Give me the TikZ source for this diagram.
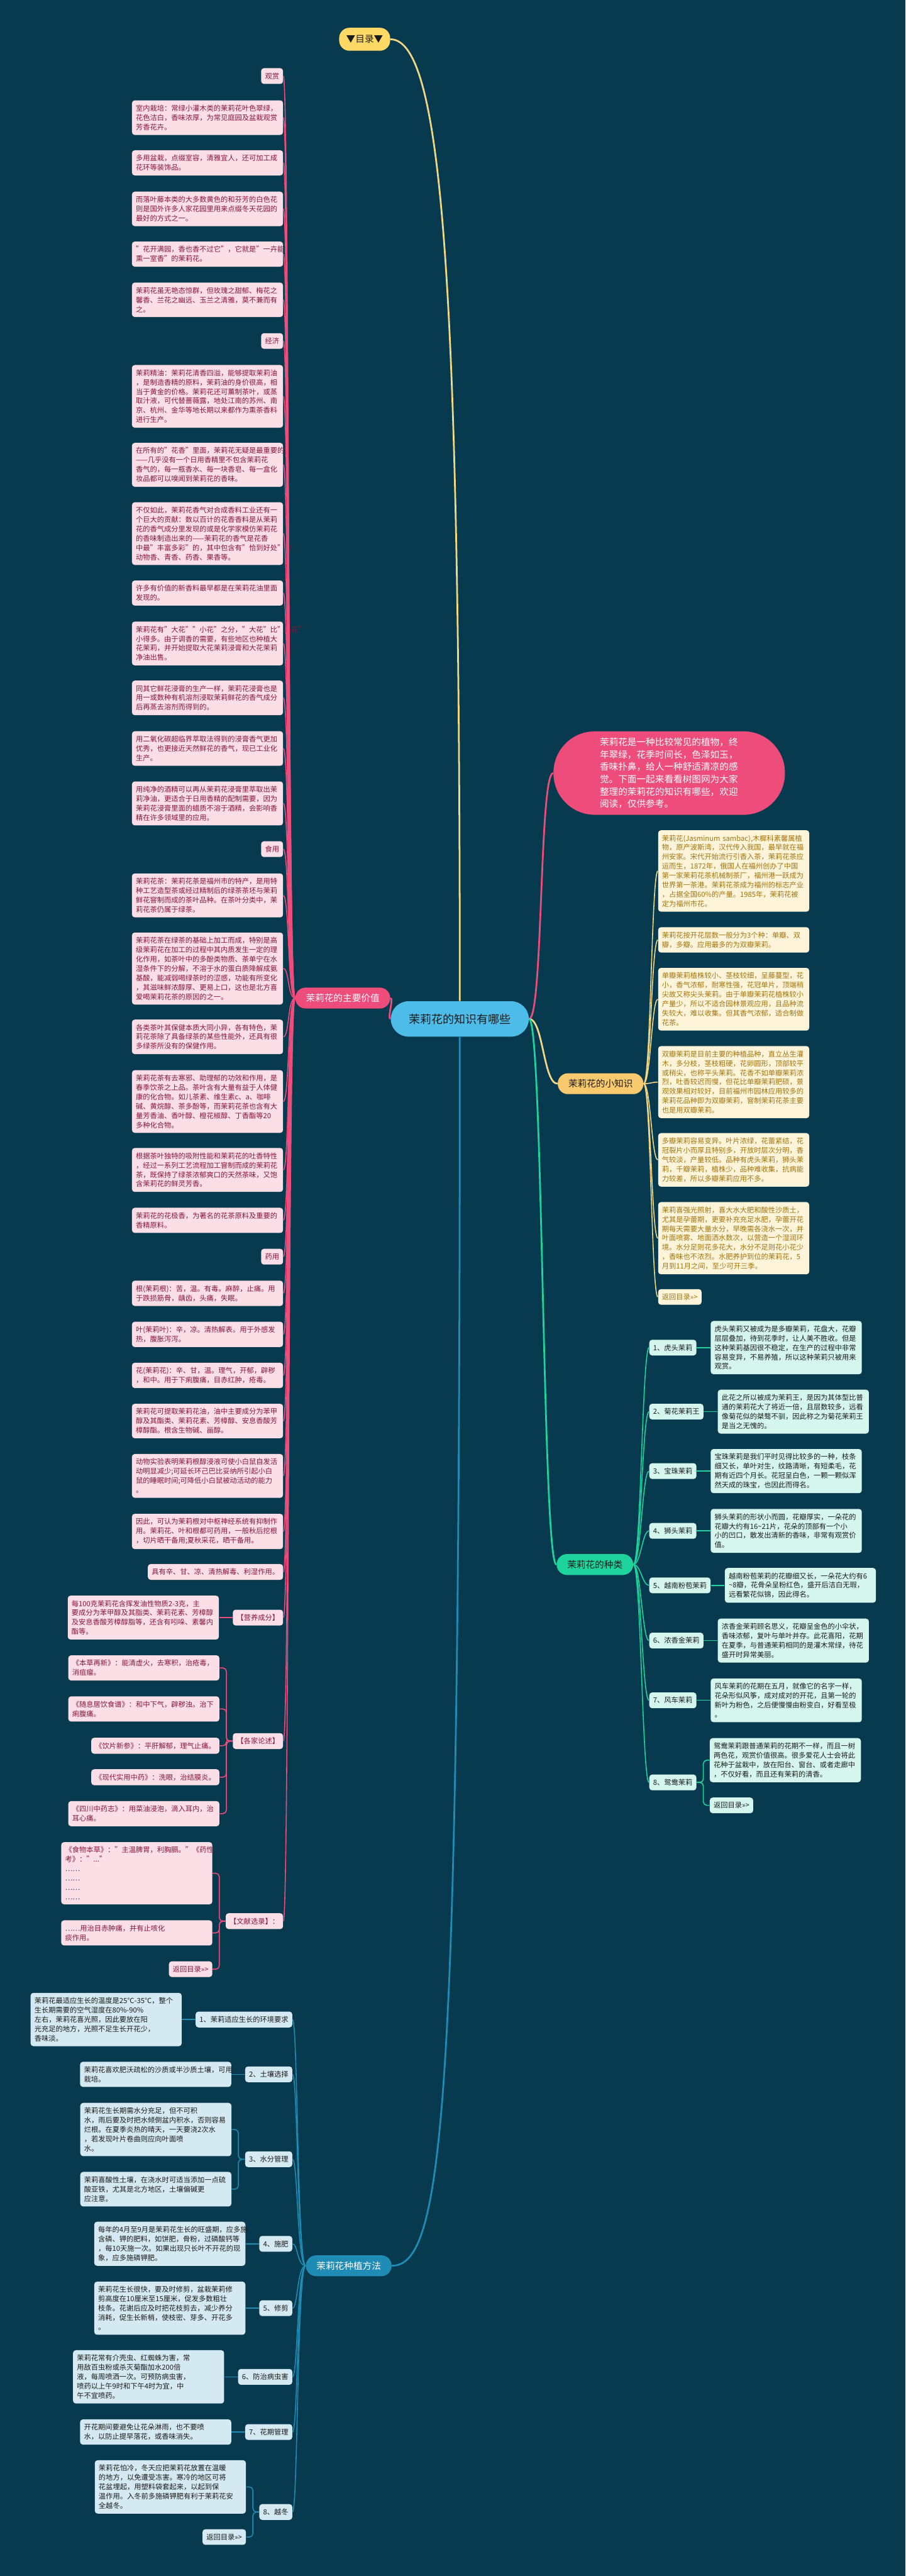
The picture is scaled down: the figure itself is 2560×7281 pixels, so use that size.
\documentclass[tikz,border=0pt]{standalone}
\usepackage{fontspec}
\setmainfont{Noto Sans CJK SC}
\usetikzlibrary{positioning}

\definecolor{bgc}{HTML}{073A4F}
\definecolor{pinkc}{HTML}{EE4C7B}
\definecolor{pinkleaf}{HTML}{FCDFE6}
\definecolor{pinktext}{HTML}{86163A}
\definecolor{goldc}{HTML}{F8C96D}
\definecolor{goldleaf}{HTML}{FEF4DA}
\definecolor{goldtext}{HTML}{A2740C}
\definecolor{goldline}{HTML}{F2D884}
\definecolor{tealc}{HTML}{1ED39C}
\definecolor{tealleaf}{HTML}{D4F6EC}
\definecolor{bluec}{HTML}{1E8CB4}
\definecolor{blueleaf}{HTML}{D4E9F1}
\definecolor{rootc}{HTML}{4DBCE9}
\definecolor{muluc}{HTML}{FFD966}
\definecolor{darktext}{HTML}{1B1B1B}

\newcommand\fsmall{\fontsize{5.69pt}{7.54pt}\selectfont}
\newcommand\fmid{\fontsize{7.4pt}{9.96pt}\selectfont}
\newcommand\fbig{\fontsize{9.1pt}{11pt}\selectfont}

\tikzset{
  box/.style={font=\fsmall, align=left, rounded corners=0.8mm, inner xsep=0.11cm, inner ysep=0.13cm},
  pleaf/.style={box, fill=pinkleaf, text=pinktext, text width=4.05cm, anchor=north east},
  ptag/.style={box, fill=pinkleaf, text=pinktext, anchor=north east},
  gleaf/.style={box, fill=goldleaf, text=goldtext, text width=4.05cm, anchor=north west},
  gtag/.style={box, fill=goldleaf, text=goldtext, anchor=north west},
  tleaf/.style={box, fill=tealleaf, text=darktext, text width=4.05cm},
  ttag/.style={box, fill=tealleaf, text=darktext},
  bleaf/.style={box, fill=blueleaf, text=darktext, text width=4.05cm},
  btag/.style={box, fill=blueleaf, text=darktext},
  branch/.style={font=\fmid, rounded corners=2.9mm, inner xsep=0.3cm, minimum height=0.59cm},
  pline/.style={draw=pinkc, line width=0.8pt},
  gline/.style={draw=goldline, line width=0.8pt},
  tline/.style={draw=tealc, line width=0.8pt},
  bline/.style={draw=bluec, line width=0.8pt},
}

\begin{document}
\begin{tikzpicture}[x=0.01cm, y=-0.01cm]
  \fill[bgc] (0,0) rectangle (2560,7281);
  \useasboundingbox (0,0) rectangle (2560,7281);

  % centre and first level
  \node (root) [branch, font=\fbig, fill=rootc, text=darktext, minimum width=3.9cm, minimum height=1cm, rounded corners=5mm] at (1300,2880) {茉莉花的知识有哪些};
  \node (mulu) [branch, fill=muluc, text=darktext, minimum height=0.65cm, inner xsep=0.2cm] at (1031,111) {▼目录▼};
  \node (intro) [fill=pinkc, text=white, font=\fmid, align=left, text width=3.92cm, inner xsep=1.31cm, inner ysep=0.18cm, rounded corners=11.7mm] at (1892,2185) {茉莉花是一种比较常见的植物，终\\年翠绿，花季时间长，色泽如玉，\\香味扑鼻，给人一种舒适清凉的感\\觉。下面一起来看看树图网为大家\\整理的茉莉花的知识有哪些，欢迎\\阅读，仅供参考。};
  \node (jz) [branch, fill=pinkc, text=white] at (969,2821) {茉莉花的主要价值};
  \node (xz) [branch, fill=goldc, text=darktext] at (1698,3063) {茉莉花的小知识};
  \node (zl) [branch, fill=tealc, text=darktext] at (1682,4422) {茉莉花的种类};
  \node (zz) [branch, fill=bluec, text=white] at (986,6404) {茉莉花种植方法};

  \draw[gline, line width=1.4pt] (root.north) .. controls +(0,-2000) and +(150,0) .. (mulu.east);
  \draw[pline, line width=1.4pt] (root.west) .. controls +(-10,0) and +(10,0) .. (jz.east);
  \draw[pline, line width=1.4pt] (root.east) .. controls +(40,0) and +(-40,0) .. (intro.west);
  \draw[gline, line width=1.4pt] (root.east) .. controls +(40,0) and +(-40,0) .. (xz.west);
  \draw[tline, line width=1.4pt] (root.east) .. controls +(40,0) and +(-40,0) .. (zl.west);
  \draw[bline, line width=1.4pt] (root.south) .. controls +(0,3000) and +(150,0) .. (zz.east);

  % main value
  \node (p1) [ptag] at (801,192) {观赏};
  \node (p2) [pleaf] at (801,283) {室内栽培：常绿小灌木类的茉莉花叶色翠绿，\\花色洁白，香味浓厚，为常见庭园及盆栽观赏\\芳香花卉。};
  \node (p3) [pleaf] at (801,424) {多用盆栽，点缀室容，清雅宜人，还可加工成\\花环等装饰品。};
  \node (p4) [pleaf] at (801,541) {而落叶藤本类的大多数黄色的和芬芳的白色花\\则是国外许多人家花园里用来点缀冬天花园的\\最好的方式之一。};
  \node (p5) [pleaf] at (801,682) {"花开满园，香也香不过它"，它就是"一卉能\\熏一室香"的茉莉花。};
  \node (p6) [pleaf] at (801,798) {茉莉花虽无艳态惊群，但玫瑰之甜郁、梅花之\\馨香、兰花之幽远、玉兰之清雅，莫不兼而有\\之。};
  \node (p7) [ptag] at (801,941) {经济};
  \node (p8) [pleaf] at (801,1031) {茉莉精油：茉莉花清香四溢，能够提取茉莉油\\，是制造香精的原料，茉莉油的身价很高，相\\当于黄金的价格。茉莉花还可薰制茶叶，或蒸\\取汁液，可代替蔷薇露，地处江南的苏州、南\\京、杭州、金华等地长期以来都作为熏茶香料\\进行生产。};
  \node (p9) [pleaf] at (801,1251) {在所有的"花香"里面，茉莉花无疑是最重要的\\——几乎没有一个日用香精里不包含茉莉花\\香气的，每一瓶香水、每一块香皂、每一盒化\\妆品都可以嗅闻到茉莉花的香味。};
  \node (p10) [pleaf] at (801,1419) {不仅如此，茉莉花香气对合成香料工业还有一\\个巨大的贡献：数以百计的花香香料是从茉莉\\花的香气成分里发现的或是化学家模仿茉莉花\\的香味制造出来的——茉莉花的香气是花香\\中最"丰富多彩"的，其中包含有"恰到好处"的\\动物香、青香、药香、果香等。};
  \node (p11) [pleaf] at (801,1640) {许多有价值的新香料最早都是在茉莉花油里面\\发现的。};
  \node (p12) [pleaf] at (801,1756) {茉莉花有"大花""小花"之分，"大花"比"小花"\\小得多。由于调香的需要，有些地区也种植大\\花茉莉，并开始提取大花茉莉浸膏和大花茉莉\\净油出售。};
  \node (p13) [pleaf] at (801,1923) {同其它鲜花浸膏的生产一样，茉莉花浸膏也是\\用一或数种有机溶剂浸取茉莉鲜花的香气成分\\后再蒸去溶剂而得到的。};
  \node (p14) [pleaf] at (801,2066) {用二氧化碳超临界萃取法得到的浸膏香气更加\\优秀，也更接近天然鲜花的香气，现已工业化\\生产。};
  \node (p15) [pleaf] at (801,2208) {用纯净的酒精可以再从茉莉花浸膏里萃取出茉\\莉净油，更适合于日用香精的配制需要，因为\\茉莉花浸膏里面的蜡质不溶于酒精，会影响香\\精在许多领域里的应用。};
  \node (p16) [ptag] at (801,2377) {食用};
  \node (p17) [pleaf] at (801,2468) {茉莉花茶：茉莉花茶是福州市的特产，是用特\\种工艺造型茶或经过精制后的绿茶茶坯与茉莉\\鲜花窨制而成的茶叶品种。在茶叶分类中，茉\\莉花茶仍属于绿茶。};
  \node (p18) [pleaf] at (801,2635) {茉莉花茶在绿茶的基础上加工而成，特别是高\\级茉莉花在加工的过程中其内质发生一定的理\\化作用，如茶叶中的多酚类物质、茶单宁在水\\湿条件下的分解，不溶于水的蛋白质降解成氨\\基酸，能减弱喝绿茶时的涩感，功能有所变化\\，其滋味鲜浓醇厚、更易上口，这也是北方喜\\爱喝茉莉花茶的原因的之一。};
  \node (p19) [pleaf] at (801,2881) {各类茶叶其保健本质大同小异，各有特色，茉\\莉花茶除了具备绿茶的某些性能外，还具有很\\多绿茶所没有的保健作用。};
  \node (p20) [pleaf] at (801,3024) {茉莉花茶有去寒邪、助理郁的功效和作用，是\\春季饮茶之上品。茶叶含有大量有益于人体健\\康的化合物。如儿茶素、维生素c、a、咖啡\\碱、黄烷醇、茶多酚等，而茉莉花茶也含有大\\量芳香油、香叶醇、橙花椒醇、丁香酯等20\\多种化合物。};
  \node (p21) [pleaf] at (801,3244) {根据茶叶独特的吸附性能和茉莉花的吐香特性\\，经过一系列工艺流程加工窨制而成的茉莉花\\茶，既保持了绿茶浓郁爽口的天然茶味，又饱\\含茉莉花的鲜灵芳香。};
  \node (p22) [pleaf] at (801,3413) {茉莉花的花极香，为著名的花茶原料及重要的\\香精原料。};
  \node (p23) [ptag] at (801,3529) {药用};
  \node (p24) [pleaf] at (801,3619) {根(茉莉根)：苦，温。有毒。麻醉，止痛。用\\于跌损筋骨，龋齿，头痛，失眠。};
  \node (p25) [pleaf] at (801,3735) {叶(茉莉叶)：辛，凉。清热解表。用于外感发\\热，腹胀泻泻。};
  \node (p26) [pleaf] at (801,3851) {花(茉莉花)：辛、甘，温。理气，开郁，辟秽\\，和中。用于下痢腹痛，目赤红肿，疮毒。};
  \node (p27) [pleaf] at (801,3967) {茉莉花可提取茉莉花油，油中主要成分为苯甲\\醇及其酯类、茉莉花素、芳樟醇、安息香酸芳\\樟醇酯。根含生物碱、甾醇。};
  \node (p28) [pleaf] at (801,4109) {动物实验表明茉莉根醇浸液可使小白鼠自发活\\动明显减少;可延长环己巴比妥纳所引起小白\\鼠的睡眠时间;可降低小白鼠被动活动的能力\\。};
  \node (p29) [pleaf] at (801,4278) {因此，可认为茉莉根对中枢神经系统有抑制作\\用。茉莉花、叶和根都可药用，一般秋后挖根\\，切片晒干备用;夏秋采花，晒干备用。};
  \node (p30) [ptag] at (801,4420) {具有辛、甘、凉、清热解毒、利湿作用。};
  \node (yy) [ptag] at (801,4549) {【营养成分】};
  \node (gj) [ptag] at (801,4898) {【各家论述】};
  \node (wx) [ptag] at (801,5407) {【文献选录】：};

  \node (yy1) [pleaf, left=0.38cm of yy] {每100克茉莉花含挥发油性物质2-3克，主\\要成分为苯甲醇及其脂类、茉莉花素、芳樟醇\\及安息香酸芳樟醇脂等，还含有吲哚、素馨内\\酯等。};
  \node (gj1) [pleaf] at (621,4678) {《本草再新》：能清虚火，去寒积，治疮毒，\\消疽瘤。};
  \node (gj2) [pleaf] at (621,4794) {《随息居饮食谱》：和中下气，辟秽浊。治下\\痢腹痛。};
  \node (gj3) [ptag] at (621,4911) {《饮片新参》：平肝解郁，理气止痛。};
  \node (gj4) [ptag] at (621,5000) {《现代实用中药》：洗眼，治结膜炎。};
  \node (gj5) [pleaf] at (621,5090) {《四川中药志》：用菜油浸泡，滴入耳内，治\\耳心痛。};
  \node (wx1) [pleaf] at (601,5206) {《食物本草》："主温脾胃，利胸膈。"《药性\\考》："..."\\……\\……\\……\\……};
  \node (wx2) [pleaf] at (601,5427) {……用治目赤肿痛，并有止咳化\\痰作用。};
  \node (wxb) [ptag] at (601,5543) {返回目录>>>};

  \draw[pline] (jz.west) .. controls +(-21,0) and +(17,0) .. (p1.east);
  \draw[pline] (jz.west) .. controls +(-21,0) and +(17,0) .. (p2.east);
  \draw[pline] (jz.west) .. controls +(-21,0) and +(17,0) .. (p3.east);
  \draw[pline] (jz.west) .. controls +(-21,0) and +(17,0) .. (p4.east);
  \draw[pline] (jz.west) .. controls +(-21,0) and +(17,0) .. (p5.east);
  \draw[pline] (jz.west) .. controls +(-21,0) and +(17,0) .. (p6.east);
  \draw[pline] (jz.west) .. controls +(-21,0) and +(17,0) .. (p7.east);
  \draw[pline] (jz.west) .. controls +(-21,0) and +(17,0) .. (p8.east);
  \draw[pline] (jz.west) .. controls +(-21,0) and +(17,0) .. (p9.east);
  \draw[pline] (jz.west) .. controls +(-21,0) and +(17,0) .. (p10.east);
  \draw[pline] (jz.west) .. controls +(-21,0) and +(17,0) .. (p11.east);
  \draw[pline] (jz.west) .. controls +(-21,0) and +(17,0) .. (p12.east);
  \draw[pline] (jz.west) .. controls +(-21,0) and +(17,0) .. (p13.east);
  \draw[pline] (jz.west) .. controls +(-21,0) and +(17,0) .. (p14.east);
  \draw[pline] (jz.west) .. controls +(-21,0) and +(17,0) .. (p15.east);
  \draw[pline] (jz.west) .. controls +(-21,0) and +(17,0) .. (p16.east);
  \draw[pline] (jz.west) .. controls +(-21,0) and +(17,0) .. (p17.east);
  \draw[pline] (jz.west) .. controls +(-21,0) and +(17,0) .. (p18.east);
  \draw[pline] (jz.west) .. controls +(-21,0) and +(17,0) .. (p19.east);
  \draw[pline] (jz.west) .. controls +(-21,0) and +(17,0) .. (p20.east);
  \draw[pline] (jz.west) .. controls +(-21,0) and +(17,0) .. (p21.east);
  \draw[pline] (jz.west) .. controls +(-21,0) and +(17,0) .. (p22.east);
  \draw[pline] (jz.west) .. controls +(-21,0) and +(17,0) .. (p23.east);
  \draw[pline] (jz.west) .. controls +(-21,0) and +(17,0) .. (p24.east);
  \draw[pline] (jz.west) .. controls +(-21,0) and +(17,0) .. (p25.east);
  \draw[pline] (jz.west) .. controls +(-21,0) and +(17,0) .. (p26.east);
  \draw[pline] (jz.west) .. controls +(-21,0) and +(17,0) .. (p27.east);
  \draw[pline] (jz.west) .. controls +(-21,0) and +(17,0) .. (p28.east);
  \draw[pline] (jz.west) .. controls +(-21,0) and +(17,0) .. (p29.east);
  \draw[pline] (jz.west) .. controls +(-21,0) and +(17,0) .. (p30.east);
  \draw[pline] (jz.west) .. controls +(-21,0) and +(17,0) .. (yy.east);
  \draw[pline] (jz.west) .. controls +(-21,0) and +(17,0) .. (gj.east);
  \draw[pline] (jz.west) .. controls +(-21,0) and +(17,0) .. (wx.east);

  \draw[pline] (yy1.east) -- (yy.west);
  \draw[pline, rounded corners=1mm] (gj1.east) -- ++(19,0) |- (gj.west);
  \draw[pline, rounded corners=1mm] (gj2.east) -- ++(19,0) |- (gj.west);
  \draw[pline, rounded corners=1mm] (gj3.east) -- ++(19,0) |- (gj.west);
  \draw[pline, rounded corners=1mm] (gj4.east) -- ++(19,0) |- (gj.west);
  \draw[pline, rounded corners=1mm] (gj5.east) -- ++(19,0) |- (gj.west);
  \draw[pline, rounded corners=1mm] (wx1.east) -- ++(19,0) |- (wx.west);
  \draw[pline, rounded corners=1mm] (wx2.east) -- ++(19,0) |- (wx.west);
  \draw[pline, rounded corners=1mm] (wxb.east) -- ++(19,0) |- (wx.west);

  % little knowledge
  \node (g1) [gleaf] at (1860,2346) {茉莉花(Jasminum sambac),木樨科素馨属植\\物，原产波斯湾，汉代传入我国，最早就在福\\州安家。宋代开始流行引香入茶，茉莉花茶应\\运而生，1872年，俄国人在福州创办了中国\\第一家茉莉花茶机械制茶厂，福州港一跃成为\\世界第一茶港。茉莉花茶成为福州的标志产业\\，占据全国60\%的产量。1985年，茉莉花被\\定为福州市花。};
  \node (g2) [gleaf] at (1860,2620) {茉莉花按开花层数一般分为3个种：单瓣、双\\瓣，多瓣。应用最多的为双瓣茉莉。};
  \node (g3) [gleaf] at (1860,2735) {单瓣茉莉植株较小、茎枝较细，呈藤蔓型，花\\小，香气浓郁，耐寒性强，花冠单片，顶端稍\\尖故又称尖头茉莉。由于单瓣茉莉花植株较小\\产量少，所以不适合园林景观应用，且品种流\\失较大，难以收集。但其香气浓郁，适合制做\\花茶。};
  \node (g4) [gleaf] at (1860,2956) {双瓣茉莉是目前主要的种植品种，直立丛生灌\\木，多分枝，茎枝粗硬，花卵圆形，顶部较平\\或稍尖，也称平头茉莉。花香不如单瓣茉莉浓\\烈，吐香较迟而慢，但花比单瓣茉莉肥硕，景\\观效果相对较好，目前福州市园林应用较多的\\茉莉花品种即为双瓣茉莉，窨制茉莉花茶主要\\也是用双瓣茉莉。};
  \node (g5) [gleaf] at (1860,3202) {多瓣茉莉容易变异。叶片浓绿，花蕾紧结，花\\冠裂片小而厚且特别多，开放时层次分明，香\\气较淡，产量较低。品种有虎头茉莉，狮头茉\\莉，千瓣茉莉，植株少，品种难收集，抗病能\\力较差，所以多瓣茉莉应用不多。};
  \node (g6) [gleaf] at (1860,3397) {茉莉喜强光照射，喜大水大肥和酸性沙质土，\\尤其是孕蕾期，更要补充充足水肥，孕蕾开花\\期每天需要大量水分，早晚需各浇水一次，并\\叶面喷雾、地面洒水数次，以营造一个湿润环\\境。水分足则花多花大，水分不足则花小花少\\，香味也不浓烈。水肥养护到位的茉莉花，5\\月到11月之间，至少可开三季。};
  \node (g7) [gtag] at (1860,3643) {返回目录>>>};

  \draw[gline] (xz.east) .. controls +(20,0) and +(-18,0) .. (g1.west);
  \draw[gline] (xz.east) .. controls +(20,0) and +(-18,0) .. (g2.west);
  \draw[gline] (xz.east) .. controls +(20,0) and +(-18,0) .. (g3.west);
  \draw[gline] (xz.east) .. controls +(20,0) and +(-18,0) .. (g4.west);
  \draw[gline] (xz.east) .. controls +(20,0) and +(-18,0) .. (g5.west);
  \draw[gline] (xz.east) .. controls +(20,0) and +(-18,0) .. (g6.west);
  \draw[gline] (xz.east) .. controls +(20,0) and +(-18,0) .. (g7.west);

  % kinds
  \node (t1) [ttag, anchor=north west] at (1835,3786) {1、虎头茉莉};
  \node (t2) [ttag, anchor=north west] at (1835,3967) {2、菊花茉莉王};
  \node (t3) [ttag, anchor=north west] at (1835,4135) {3、宝珠茉莉};
  \node (t4) [ttag, anchor=north west] at (1835,4304) {4、狮头茉莉};
  \node (t5) [ttag, anchor=north west] at (1835,4458) {5、越南粉苞茉莉};
  \node (t6) [ttag, anchor=north west] at (1835,4614) {6、浓香金茉莉};
  \node (t7) [ttag, anchor=north west] at (1835,4783) {7、风车茉莉};
  \node (t8) [ttag, anchor=north west] at (1835,5015) {8、鸳鸯茉莉};

  \node (t1a) [tleaf, right=0.39cm of t1] {虎头茉莉又被成为是多瓣茉莉，花盘大，花瓣\\层层叠加，待到花季时，让人美不胜收。但是\\这种茉莉基因很不稳定，在生产的过程中非常\\容易变异，不易养殖，所以这种茉莉只被用来\\观赏。};
  \node (t2a) [tleaf, right=0.39cm of t2] {此花之所以被成为茉莉王，是因为其体型比普\\通的茉莉花大了将近一倍，且层数较多，远看\\像菊花似的桀骜不驯，因此称之为菊花茉莉王\\是当之无愧的。};
  \node (t3a) [tleaf, right=0.39cm of t3] {宝珠茉莉是我们平时见得比较多的一种，枝条\\细又长，单叶对生，纹路清晰，有短柔毛，花\\期有近四个月长。花冠呈白色，一颗一颗似浑\\然天成的珠宝，也因此而得名。};
  \node (t4a) [tleaf, right=0.39cm of t4] {狮头茉莉的形状小而圆，花瓣厚实，一朵花的\\花瓣大约有16\textasciitilde21片，花朵的顶部有一个小\\小的凹口，散发出清新的香味，非常有观赏价\\值。};
  \node (t5a) [tleaf, right=0.39cm of t5] {越南粉苞茉莉的花瓣细又长，一朵花大约有6\\\textasciitilde8瓣，花骨朵呈粉红色，盛开后洁白无瑕，\\远看繁花似锦，因此得名。};
  \node (t6a) [tleaf, right=0.39cm of t6] {浓香金茉莉顾名思义，花瓣呈金色的小伞状，\\香味浓郁，复叶与单叶并存。此花喜阳，花期\\在夏季，与普通茉莉相同的是灌木常绿，待花\\盛开时异常美丽。};
  \node (t7a) [tleaf, right=0.39cm of t7] {风车茉莉的花期在五月，就像它的名字一样，\\花朵形似风筝，成对成对的开花，且第一轮的\\新叶为粉色，之后便慢慢由粉变白，好看至极\\。};
  \node (t8a) [tleaf, anchor=north west] at (2006,4912) {鸳鸯茉莉跟普通茉莉的花期不一样，而且一树\\两色花，观赏价值很高。很多爱花人士会将此\\花种于盆栽中，放在阳台、窗台、或者走廊中\\，不仅好看，而且还有茉莉的清香。};
  \node (t8b) [ttag, anchor=north west] at (2006,5080) {返回目录>>>};

  \draw[tline] (zl.east) .. controls +(21,0) and +(-19,0) .. (t1.west);
  \draw[tline] (zl.east) .. controls +(21,0) and +(-19,0) .. (t2.west);
  \draw[tline] (zl.east) .. controls +(21,0) and +(-19,0) .. (t3.west);
  \draw[tline] (zl.east) .. controls +(21,0) and +(-19,0) .. (t4.west);
  \draw[tline] (zl.east) .. controls +(21,0) and +(-19,0) .. (t5.west);
  \draw[tline] (zl.east) .. controls +(21,0) and +(-19,0) .. (t6.west);
  \draw[tline] (zl.east) .. controls +(21,0) and +(-19,0) .. (t7.west);
  \draw[tline] (zl.east) .. controls +(21,0) and +(-19,0) .. (t8.west);
  \draw[tline] (t1.east) -- (t1a.west);
  \draw[tline] (t2.east) -- (t2a.west);
  \draw[tline] (t3.east) -- (t3a.west);
  \draw[tline] (t4.east) -- (t4a.west);
  \draw[tline] (t5.east) -- (t5a.west);
  \draw[tline] (t6.east) -- (t6a.west);
  \draw[tline] (t7.east) -- (t7a.west);
  \draw[tline, rounded corners=1mm] (t8.east) -- ++(19,0) |- (t8a.west);
  \draw[tline, rounded corners=1mm] (t8.east) -- ++(19,0) |- (t8b.west);

  % planting
  \node (s1) [btag, anchor=north east] at (827,5685) {1、茉莉适应生长的环境要求};
  \node (s2) [btag, anchor=north east] at (827,5840) {2、土壤选择};
  \node (s3) [btag, anchor=north east] at (827,6080) {3、水分管理};
  \node (s4) [btag, anchor=north east] at (827,6319) {4、施肥};
  \node (s5) [btag, anchor=north east] at (827,6501) {5、修剪};
  \node (s6) [btag, anchor=north east] at (827,6695) {6、防治病虫害};
  \node (s7) [btag, anchor=north east] at (827,6851) {7、花期管理};
  \node (s8) [btag, anchor=north east] at (827,7077) {8、越冬};

  \node (s1a) [bleaf, left=0.38cm of s1] {茉莉花最适应生长的温度是25℃-35℃，整个\\生长期需要的空气湿度在80\%-90\%\\左右，茉莉花喜光照，因此要放在阳\\光充足的地方，光照不足生长开花少，\\香味淡。};
  \node (s2a) [bleaf, left=0.38cm of s2] {茉莉花喜欢肥沃疏松的沙质或半沙质土壤，可用\\栽培。};
  \node (s3a) [bleaf, anchor=north east] at (655,5943) {茉莉花生长期需水分充足，但不可积\\水，雨后要及时把水倾倒盆内积水，否则容易\\烂根。在夏季炎热的晴天，一天要浇2次水\\，若发现叶片卷曲则应向叶面喷\\水。};
  \node (s3b) [bleaf, anchor=north east] at (655,6138) {茉莉喜酸性土壤，在浇水时可适当添加一点硫\\酸亚铁，尤其是北方地区，土壤偏碱更\\应注意。};
  \node (s4a) [bleaf, left=0.38cm of s4] {每年的4月至9月是茉莉花生长的旺盛期，应多施\\含磷、钾的肥料，如饼肥，骨粉，过磷酸钙等\\，每10天施一次。如果出现只长叶不开花的现\\象，应多施磷钾肥。};
  \node (s5a) [bleaf, left=0.38cm of s5] {茉莉花生长很快，要及时修剪，盆栽茉莉修\\剪高度在10厘米至15厘米，促发多数粗壮\\枝条。花谢后应及时把花枝剪去，减少养分\\消耗，促生长新梢，使枝密、芽多、开花多\\。};
  \node (s6a) [bleaf, left=0.38cm of s6] {茉莉花常有介壳虫、红蜘蛛为害，常\\用敌百虫粉或杀灭菊酯加水200倍\\液，每周喷洒一次。可预防病虫害，\\喷药以上午9时和下午4时为宜，中\\午不宜喷药。};
  \node (s7a) [bleaf, left=0.38cm of s7] {开花期间要避免让花朵淋雨，也不要喷\\水，以防止提早落花，或香味消失。};
  \node (s8a) [bleaf, anchor=north east] at (696,6953) {茉莉花怕冷，冬天应把茉莉花放置在温暖\\的地方，以免遭受冻害。寒冷的地区可将\\花盆埋起，用塑料袋套起来，以起到保\\温作用。入冬前多施磷钾肥有利于茉莉花安\\全越冬。};
  \node (s8b) [btag, anchor=north east] at (696,7148) {返回目录>>>};

  \draw[bline] (zz.west) .. controls +(-24,0) and +(15,0) .. (s1.east);
  \draw[bline] (zz.west) .. controls +(-24,0) and +(15,0) .. (s2.east);
  \draw[bline] (zz.west) .. controls +(-24,0) and +(15,0) .. (s3.east);
  \draw[bline] (zz.west) .. controls +(-24,0) and +(15,0) .. (s4.east);
  \draw[bline] (zz.west) .. controls +(-24,0) and +(15,0) .. (s5.east);
  \draw[bline] (zz.west) .. controls +(-24,0) and +(15,0) .. (s6.east);
  \draw[bline] (zz.west) .. controls +(-24,0) and +(15,0) .. (s7.east);
  \draw[bline] (zz.west) .. controls +(-24,0) and +(15,0) .. (s8.east);
  \draw[bline] (s1a.east) -- (s1.west);
  \draw[bline] (s2a.east) -- (s2.west);
  \draw[bline, rounded corners=1mm] (s3a.east) -- ++(19,0) |- (s3.west);
  \draw[bline, rounded corners=1mm] (s3b.east) -- ++(19,0) |- (s3.west);
  \draw[bline] (s4a.east) -- (s4.west);
  \draw[bline] (s5a.east) -- (s5.west);
  \draw[bline] (s6a.east) -- (s6.west);
  \draw[bline] (s7a.east) -- (s7.west);
  \draw[bline, rounded corners=1mm] (s8a.east) -- ++(19,0) |- (s8.west);
  \draw[bline, rounded corners=1mm] (s8b.east) -- ++(19,0) |- (s8.west);
\end{tikzpicture}
\end{document}
